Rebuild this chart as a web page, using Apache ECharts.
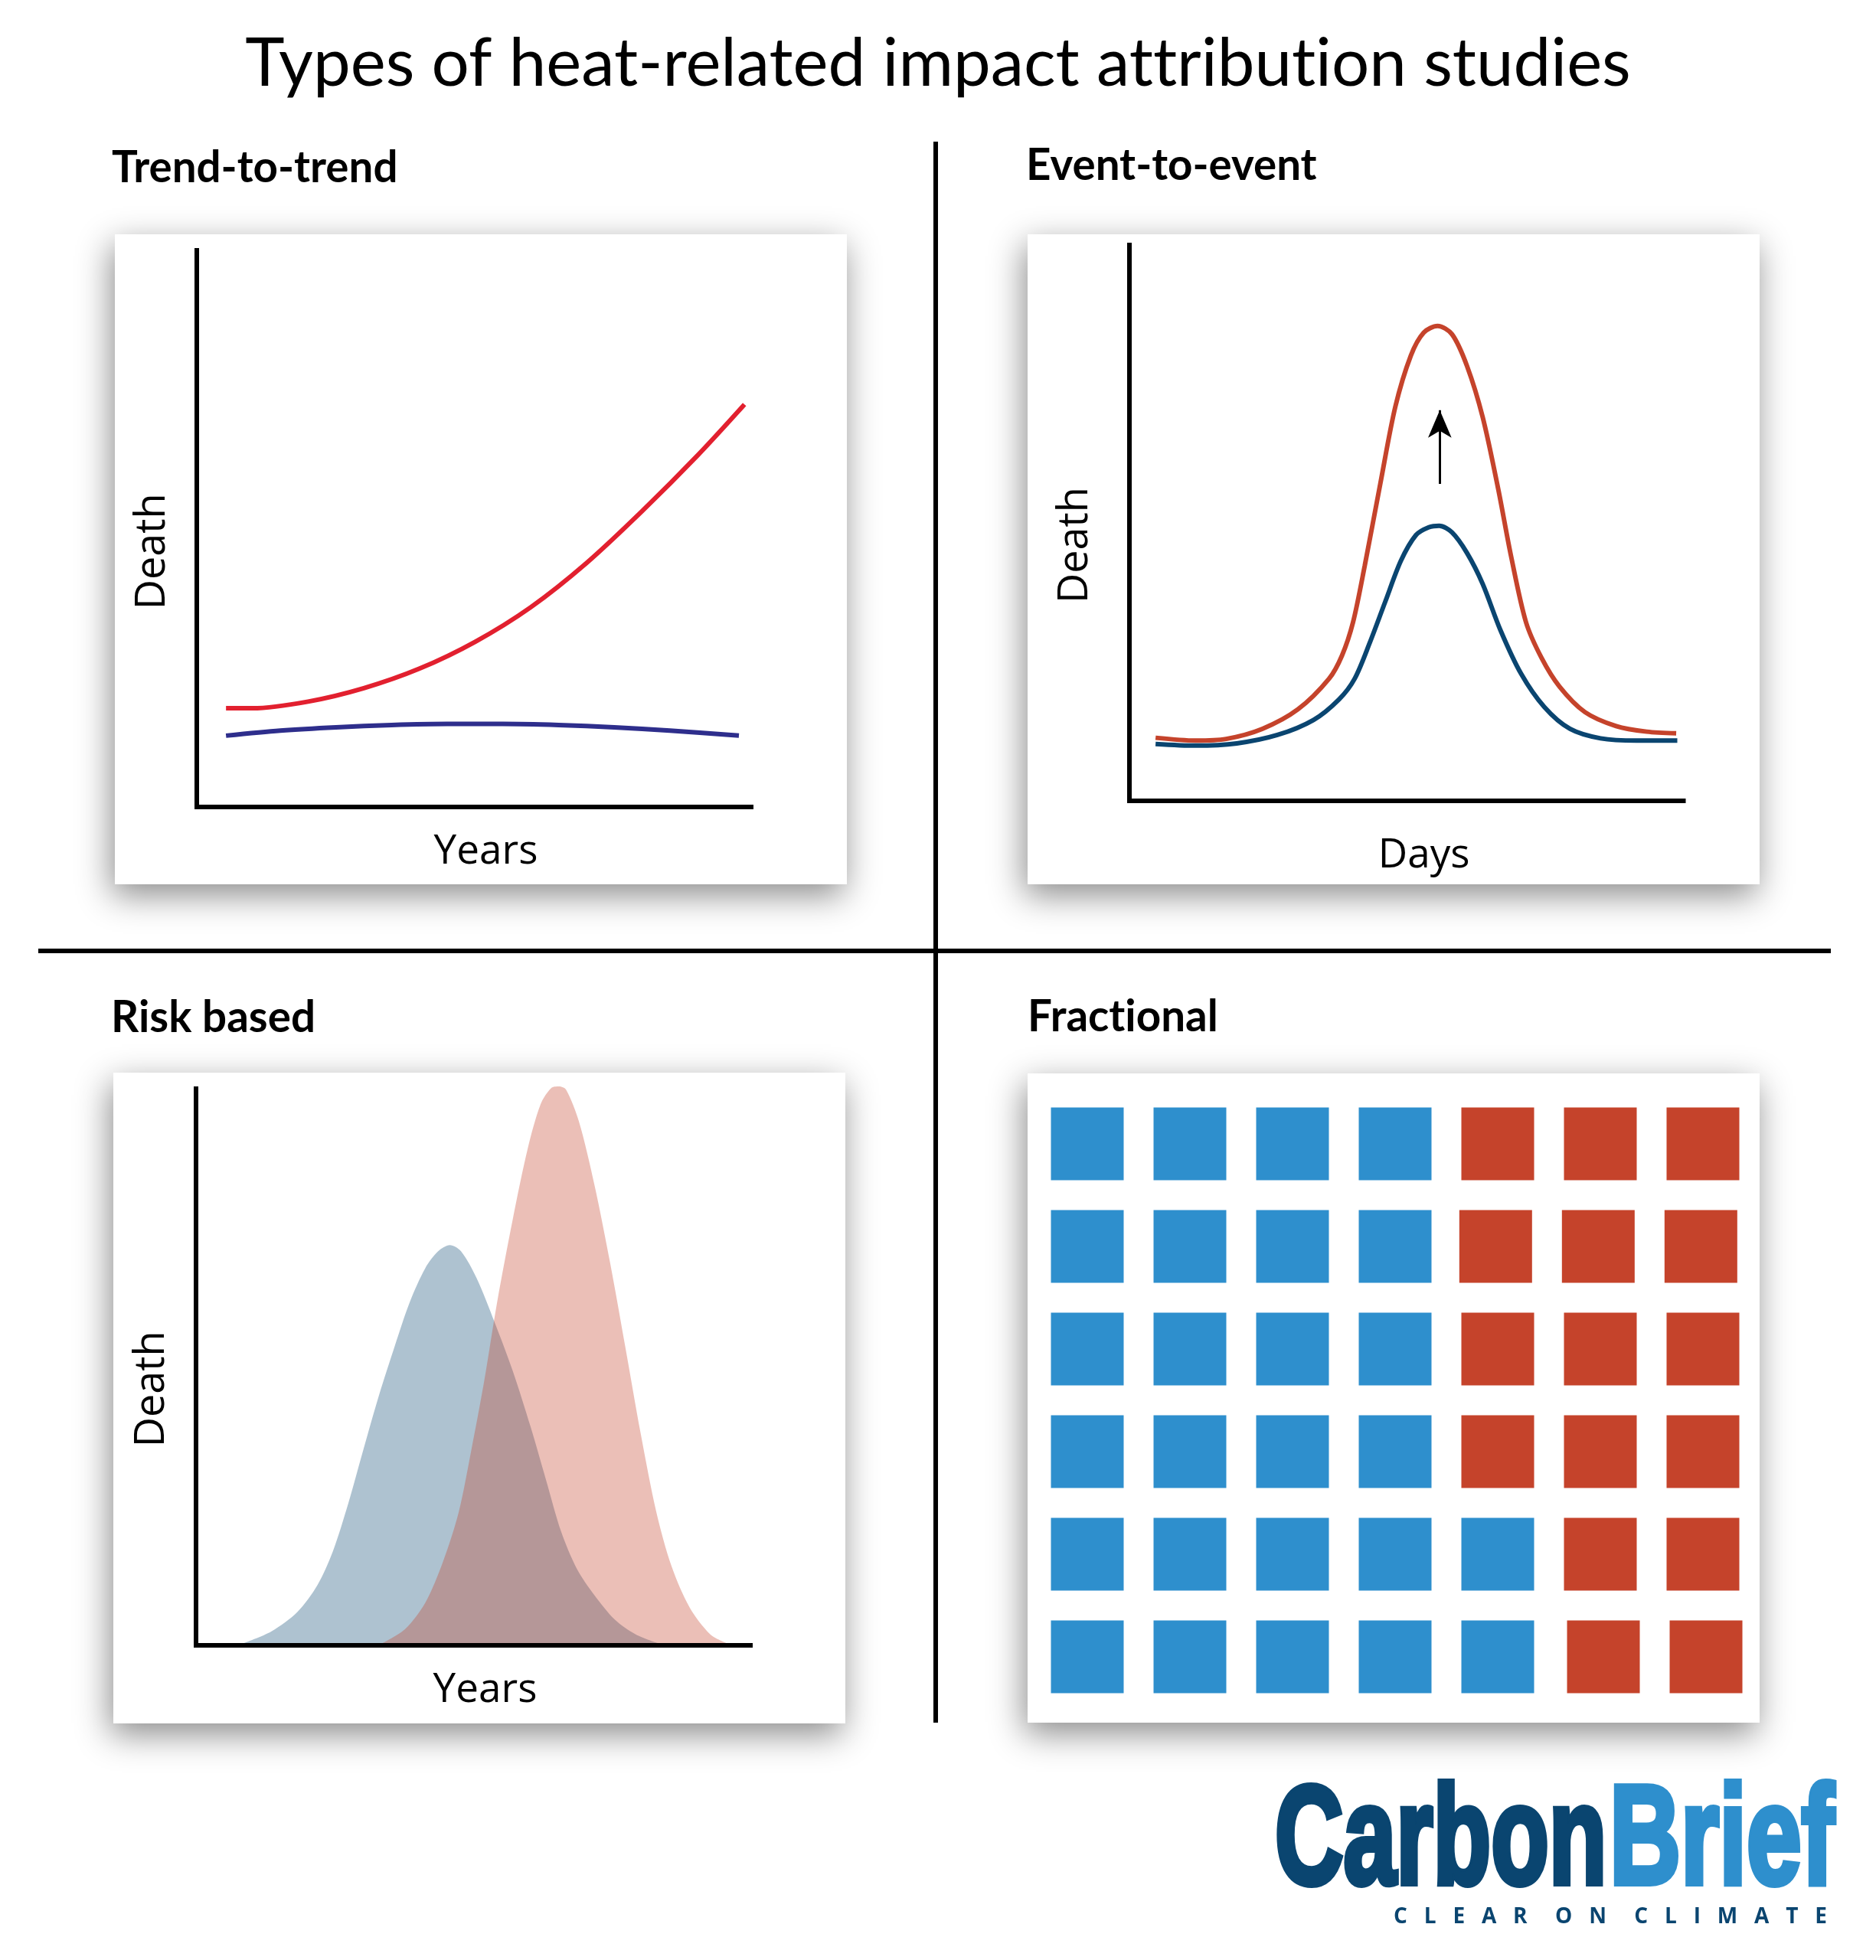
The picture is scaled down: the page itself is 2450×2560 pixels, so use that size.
<!DOCTYPE html>
<html>
<head>
<meta charset="utf-8">
<style>html,body{margin:0;padding:0;background:#fff}#c{width:2450px;height:2560px}</style>
<script src="https://cdn.jsdelivr.net/npm/echarts@6/dist/echarts.min.js"></script>
</head>
<body>
<div id="c"></div>
<script>
const mainTitle = 'Types of heat-related impact attribution studies';
const panelTitles = ['Trend-to-trend', 'Event-to-event', 'Risk based', 'Fractional'];
const axisNames = { years: 'Years', days: 'Days', death: 'Death' };

const trendRed = [[5.25,17.6],[10,17.6],[20,18.8],[30,21.2],[40,24.7],[50,29.5],[60,35.7],[70,43.6],[80,52.9],[90,62.9],[98.4,72]];
const trendBlue = [[5.25,12.7],[15,13.6],[25,14.2],[35,14.6],[45,14.8],[55,14.8],[65,14.6],[75,14.2],[85,13.6],[97.4,12.7]];

const eventRed = [[4.7,11.3],[11.9,10.8],[17.4,11.1],[23.9,12.9],[30.3,16.4],[35.9,21.9],[38.2,26],[40.2,32],[42.3,42.1],[45.1,56.8],[47.8,70.6],[50.6,79.8],[52.9,83.9],[55.4,85.1],[58,83.6],[60.7,77.9],[63.5,68.8],[66.3,55.9],[68.6,43.9],[71.3,32],[74.1,25.6],[77.3,20.5],[81.9,15.9],[87.5,13.4],[93,12.4],[98.3,12.1]];
const eventBlue = [[4.7,10.2],[11.9,9.9],[19.3,10.3],[26.6,11.8],[33.1,14.5],[37.7,18.2],[40.5,21.9],[43.2,28.3],[46,35.7],[48.8,43],[51.5,47.6],[53.8,49],[55.7,49.3],[58,48.1],[60.7,44.4],[63.5,38.9],[66.7,30.6],[70.4,22.8],[74.6,16.8],[79.2,12.9],[84.7,11.2],[91.2,10.8],[98.5,10.8]];
const eventArrow = [[55.8,56.8],[55.8,70]];

const riskBlue = [[8.5,0.3],[13.5,2.4],[18.2,5.9],[21.8,10.7],[24.6,16.8],[27.4,25.5],[30.1,35.1],[32.9,44.8],[35.7,53.5],[38.4,61.4],[41.2,67.5],[43.5,70.5],[45.6,71.6],[47.6,70.5],[50.4,65.7],[53.6,57.9],[56.9,49.1],[60.1,39.1],[62.9,29.5],[65.6,20.3],[68.4,13.7],[71.6,8.9],[75.3,4.5],[79,1.9],[83.1,0.3]];
const riskRed = [[33.4,0.3],[37.5,2.8],[41.2,7.6],[44.4,15],[47.2,23.8],[49.5,35.1],[51.8,47.4],[54.1,61.4],[56.9,76.2],[59.6,88.9],[61.9,96.8],[63.8,99.7],[65.2,100],[66.5,99.4],[68.8,93.7],[71.6,82.3],[74.4,68.4],[77.1,53.5],[79.9,37.8],[82.7,23.8],[85.4,14.2],[88.7,6.7],[92.4,1.9],[95.4,0.3]];

const fractionBlue = [[0,0],[1,0],[2,0],[3,0],[0,1],[1,1],[2,1],[3,1],[0,2],[1,2],[2,2],[3,2],[0,3],[1,3],[2,3],[3,3],[0,4],[1,4],[2,4],[3,4],[4,4],[0,5],[1,5],[2,5],[3,5],[4,5]];
const fractionRed = [[4,0],[5,0],[6,0],[3.98,1],[4.98,1],[5.98,1],[4,2],[5,2],[6,2],[4,3],[5,3],[6,3],[5,4],[6,4],[5.03,5],[6.03,5]];

const logoWords = ['Carbon', 'Brief'];
const logoTag = 'C   L   E   A   R     O   N     C   L   I   M   A   T   E';

const TITLE_FONT = 'Lato', LABEL_FONT = '"Open Sans"';
const NAVY = '#0A4570', SKY = '#2E8FCD', RUST = '#C5432B';

// Non-zero letter spacing switches off Lato's tt/ti ligatures, which the reference does not have.
const getCtx = HTMLCanvasElement.prototype.getContext;
HTMLCanvasElement.prototype.getContext = function (type, opts) {
  const ctx = getCtx.call(this, type, opts);
  if (type === '2d' && ctx && 'letterSpacing' in ctx) ctx.letterSpacing = '0.01px';
  return ctx;
};

function card(x, y, w, h) {
  return { type: 'rect', z: -1, shape: { x, y, width: w, height: h },
    style: { fill: '#fff', shadowBlur: 42, shadowColor: 'rgba(0,0,0,0.46)', shadowOffsetY: 14, shadowOffsetX: -4 } };
}
function rule(x1, y1, x2, y2) {
  return { type: 'line', z: 1, shape: { x1, y1, x2, y2 }, style: { stroke: '#000', lineWidth: 6 } };
}
function head(text, left, top) {
  return { text, left, top, textStyle: { fontFamily: TITLE_FONT, fontWeight: 'bold', fontSize: 56.5, color: '#000' }, padding: 0 };
}
function xAx(i, name, shift, gap) {
  return { gridIndex: i, type: 'value', min: 0, max: 99.6, name, nameLocation: 'middle', nameGap: gap, z: 5,
    nameTextStyle: { fontFamily: LABEL_FONT, fontSize: 53, color: '#000', padding: [0, 0, 0, shift] },
    axisLine: { show: true, onZero: false, lineStyle: { color: '#000', width: 6, cap: 'square' } },
    axisTick: { show: false }, axisLabel: { show: false }, splitLine: { show: false } };
}
function yAx(i, name, shift, gap) {
  return { gridIndex: i, type: 'value', min: 0, max: 99.6, name, nameLocation: 'middle', nameGap: gap, z: 5,
    nameTextStyle: { fontFamily: LABEL_FONT, fontSize: 54, color: '#000', padding: [0, shift, 0, 0] },
    axisLine: { show: true, onZero: false, lineStyle: { color: '#000', width: 6, cap: 'square' } },
    axisTick: { show: false }, axisLabel: { show: false }, splitLine: { show: false } };
}
function curve(i, data, color) {
  return { type: 'line', xAxisIndex: i, yAxisIndex: i, data, smooth: 0.3, showSymbol: false, symbol: 'none', clip: false,
    lineStyle: { color, width: 6, cap: 'butt' }, z: 3 };
}
function hill(i, data, color, op) {
  return { type: 'line', xAxisIndex: i, yAxisIndex: i, data, smooth: 0.3, showSymbol: false, symbol: 'none', clip: false,
    lineStyle: { width: 0 }, areaStyle: { color, opacity: op }, z: 3 };
}
function cells(data, color) {
  return { type: 'scatter', xAxisIndex: 3, yAxisIndex: 3, data, symbol: 'rect', symbolSize: 95, itemStyle: { color, opacity: 1 }, z: 3 };
}

const chart = echarts.init(document.getElementById('c'), null, { renderer: 'canvas' });
const arrowSeries = curve(1, eventRed, RUST);
arrowSeries.markLine = { silent: true, animation: false, symbol: ['none', 'arrow'], symbolSize: [23, 36], label: { show: false },
  lineStyle: { color: '#000', width: 3, type: 'solid' }, emphasis: { disabled: true },
  data: [[{ coord: eventArrow[0] }, { coord: eventArrow[1] }]] };

const LOGO_FONT = 'bold 184px "Liberation Sans"';
chart.setOption({
  animation: false,
  backgroundColor: '#fff',
  title: [
    { text: mainTitle, left: 'center', top: 40, textStyle: { fontFamily: TITLE_FONT, fontWeight: 'normal', fontSize: 87, color: '#000' }, padding: 0 },
    head(panelTitles[0], 146, 191), head(panelTitles[1], 1340, 188), head(panelTitles[2], 145, 1301), head(panelTitles[3], 1342, 1300)
  ],
  grid: [
    { left: 257, top: 327, width: 724, height: 726.5 },
    { left: 1475, top: 320, width: 723.5, height: 726 },
    { left: 256, top: 1422, width: 724, height: 726.6 },
    { left: 1353, top: 1427, width: 938, height: 804 }
  ],
  xAxis: [
    xAx(0, axisNames.years, 31, 33), xAx(1, axisNames.days, 46, 45), xAx(2, axisNames.years, 31, 33),
    { gridIndex: 3, type: 'value', min: -0.5, max: 6.5, show: false }
  ],
  yAxis: [
    yAx(0, axisNames.death, 60, 30), yAx(1, axisNames.death, 58, 43), yAx(2, axisNames.death, 58, 30),
    { gridIndex: 3, type: 'value', min: -0.5, max: 5.5, inverse: true, show: false }
  ],
  series: [
    curve(0, trendRed, '#E2202F'), curve(0, trendBlue, '#2E2E8C'),
    arrowSeries, curve(1, eventBlue, NAVY),
    hill(2, riskBlue, NAVY, 0.33), hill(2, riskRed, RUST, 0.34),
    cells(fractionBlue, SKY), cells(fractionRed, RUST)
  ],
  graphic: { elements: [
    card(150, 306, 956, 849), card(1342, 306, 956, 849), card(148, 1401, 956, 850), card(1342, 1402, 956, 848),
    rule(1222, 185, 1222, 2250), rule(50, 1242, 2391, 1242),
    { type: 'text', z: 3, x: 1665, y: 2501, scaleX: 0.673,
      style: { text: logoWords[0], font: LOGO_FONT, fill: NAVY, stroke: NAVY, lineWidth: 8, verticalAlign: 'bottom' } },
    { type: 'text', z: 3, x: 2102, y: 2501, scaleX: 0.70,
      style: { text: logoWords[1], font: LOGO_FONT, fill: SKY, stroke: SKY, lineWidth: 8, verticalAlign: 'bottom' } },
    { type: 'text', z: 3, x: 1820, y: 2518,
      style: { text: logoTag, font: 'bold 28px "Open Sans"', fill: NAVY, verticalAlign: 'bottom' } }
  ] }
});
</script>
</body>
</html>
